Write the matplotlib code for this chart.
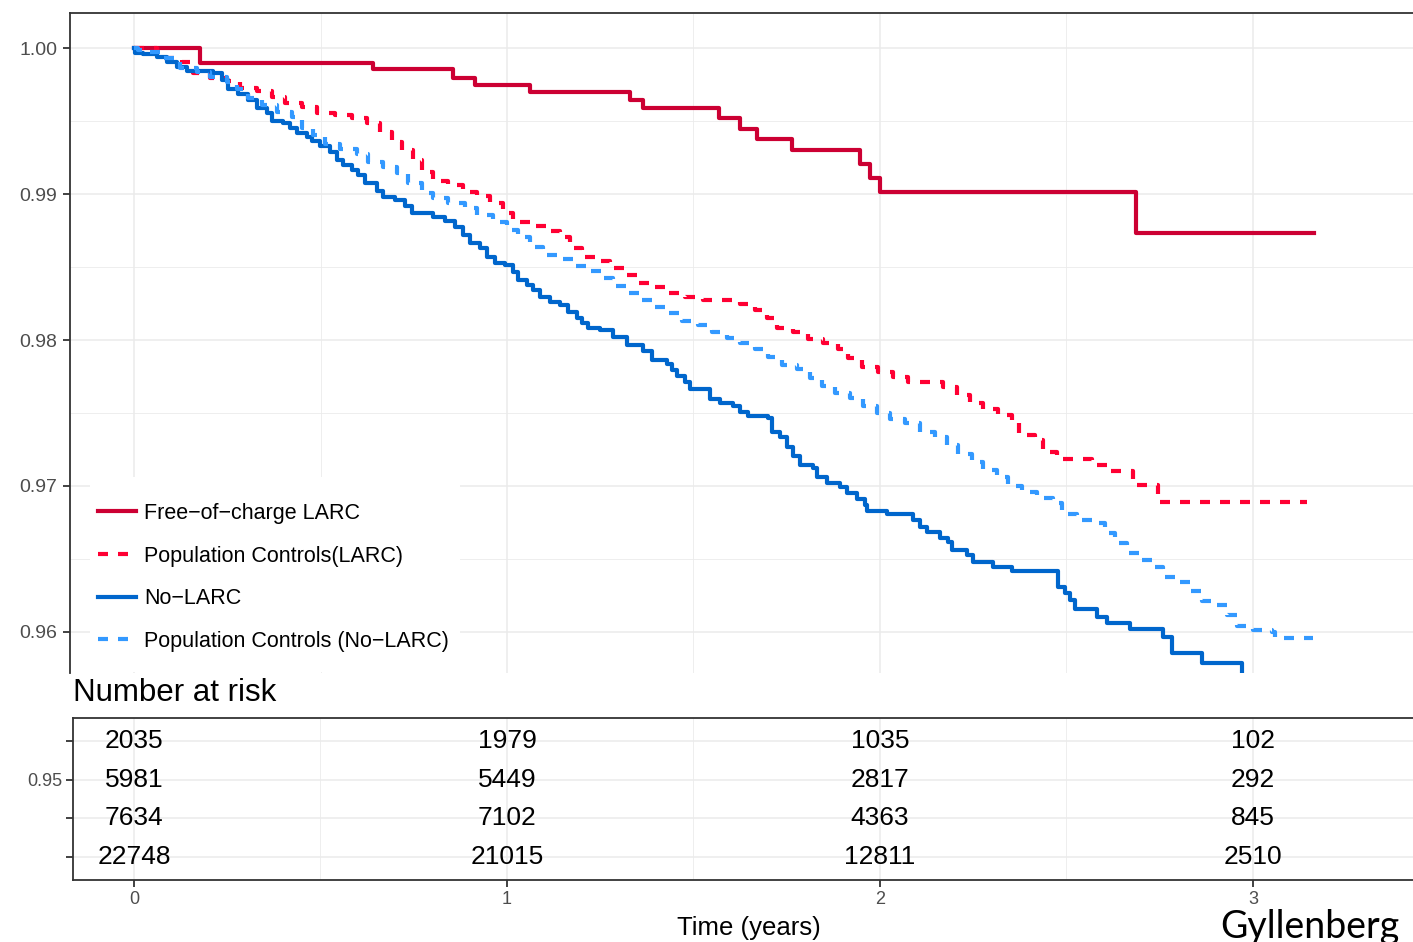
import matplotlib
matplotlib.use("Agg")
import matplotlib.pyplot as plt
from matplotlib.patches import Rectangle
from matplotlib.ticker import MultipleLocator, FixedLocator

plt.rcParams["font.family"] = ["Liberation Sans", "DejaVu Sans"]

# Kaplan-Meier style curves (time in years, survival proportion)
free_t = [0, 0.177, 0.641, 0.855, 0.914, 1.062, 1.330, 1.365, 1.568, 1.625, 1.670,
          1.764, 1.946, 1.973, 2.000, 2.686, 3.164]
free_s = [1.0, 0.99897, 0.99853, 0.99797, 0.99747, 0.99701, 0.99644, 0.99587, 0.99518,
          0.99445, 0.99375, 0.99301, 0.99205, 0.99112, 0.99016, 0.98735, 0.98735]

poplarc_t = [0, 0.062, 0.129, 0.158, 0.204, 0.249, 0.284, 0.330, 0.370, 0.405, 0.450,
             0.491, 0.539, 0.584, 0.625, 0.660, 0.692, 0.718, 0.748, 0.772, 0.802,
             0.842, 0.882, 0.920, 0.954, 0.989, 1.016, 1.067, 1.107, 1.142, 1.169,
             1.201, 1.244, 1.276, 1.316, 1.351, 1.391, 1.432, 1.477, 1.525, 1.625,
             1.665, 1.697, 1.724, 1.767, 1.807, 1.847, 1.887, 1.914, 1.952, 1.995,
             2.035, 2.075, 2.169, 2.206, 2.241, 2.276, 2.316, 2.354, 2.373, 2.416,
             2.437, 2.475, 2.568, 2.609, 2.678, 2.745, 3.145]
poplarc_s = [1.0, 0.99932, 0.99904, 0.99829, 0.99795, 0.99774, 0.99726, 0.99705, 0.99664,
             0.99623, 0.99596, 0.99555, 0.99541, 0.99521, 0.99486, 0.99425, 0.99356,
             0.99301, 0.99233, 0.99151, 0.99089, 0.99062, 0.99014, 0.98986, 0.98938,
             0.98870, 0.98808, 0.98781, 0.98747, 0.98705, 0.98630, 0.98568, 0.98541,
             0.98493, 0.98445, 0.98390, 0.98363, 0.98322, 0.98295, 0.98274, 0.98247,
             0.98205, 0.98151, 0.98082, 0.98055, 0.98007, 0.97979, 0.97938, 0.97877,
             0.97815, 0.97781, 0.97747, 0.97712, 0.97678, 0.97623, 0.97568, 0.97527,
             0.97486, 0.97438, 0.97349, 0.97315, 0.97233, 0.97185, 0.97144, 0.97103,
             0.97007, 0.96890, 0.96890]

nolarc_t = [0, 0.003, 0.024, 0.062, 0.089, 0.115, 0.142, 0.212, 0.236, 0.252, 0.279,
            0.306, 0.330, 0.357, 0.370, 0.400, 0.418, 0.437, 0.464, 0.477, 0.499,
            0.526, 0.544, 0.560, 0.585, 0.601, 0.619, 0.652, 0.668, 0.700, 0.727,
            0.745, 0.802, 0.834, 0.861, 0.882, 0.901, 0.928, 0.946, 0.968, 0.995,
            1.016, 1.030, 1.054, 1.070, 1.089, 1.115, 1.142, 1.164, 1.188, 1.201,
            1.217, 1.249, 1.284, 1.322, 1.365, 1.389, 1.429, 1.442, 1.456, 1.477,
            1.491, 1.544, 1.571, 1.606, 1.625, 1.646, 1.700, 1.711, 1.732, 1.751,
            1.767, 1.786, 1.820, 1.831, 1.858, 1.893, 1.912, 1.938, 1.960, 1.965,
            2.019, 2.089, 2.107, 2.126, 2.161, 2.182, 2.193, 2.233, 2.249, 2.303,
            2.354, 2.477, 2.496, 2.509, 2.523, 2.582, 2.609, 2.670, 2.759, 2.783,
            2.863, 2.971, 2.976]
nolarc_s = [1.0, 0.99966, 0.99959, 0.99938, 0.99904, 0.99870, 0.99842, 0.99829, 0.99781,
            0.99719, 0.99685, 0.99644, 0.99589, 0.99555, 0.99500, 0.99486, 0.99452,
            0.99418, 0.99390, 0.99363, 0.99329, 0.99288, 0.99233, 0.99199, 0.99164,
            0.99130, 0.99075, 0.99021, 0.98979, 0.98959, 0.98918, 0.98870, 0.98842,
            0.98815, 0.98774, 0.98719, 0.98664, 0.98630, 0.98568, 0.98527, 0.98514,
            0.98466, 0.98411, 0.98377, 0.98342, 0.98295, 0.98260, 0.98240, 0.98192,
            0.98151, 0.98116, 0.98082, 0.98068, 0.98021, 0.97966, 0.97925, 0.97863,
            0.97836, 0.97795, 0.97753, 0.97712, 0.97664, 0.97596, 0.97568, 0.97548,
            0.97507, 0.97479, 0.97466, 0.97370, 0.97336, 0.97267, 0.97205, 0.97144,
            0.97123, 0.97062, 0.97021, 0.96993, 0.96952, 0.96911, 0.96870, 0.96829,
            0.96808, 0.96767, 0.96719, 0.96685, 0.96644, 0.96616, 0.96562, 0.96527,
            0.96479, 0.96445, 0.96418, 0.96308, 0.96267, 0.96219, 0.96158, 0.96103,
            0.96062, 0.96021, 0.95966, 0.95856, 0.95788, 0.95600, 0.95600]

popno_t = [0, 0.011, 0.035, 0.078, 0.123, 0.169, 0.204, 0.249, 0.276, 0.306, 0.343,
           0.383, 0.424, 0.450, 0.480, 0.512, 0.552, 0.598, 0.627, 0.668, 0.705,
           0.735, 0.772, 0.802, 0.842, 0.887, 0.920, 0.962, 1.000, 1.029, 1.062,
           1.097, 1.137, 1.177, 1.217, 1.255, 1.284, 1.322, 1.357, 1.391, 1.432,
           1.469, 1.512, 1.550, 1.590, 1.625, 1.665, 1.700, 1.737, 1.777, 1.812,
           1.845, 1.879, 1.920, 1.954, 1.992, 2.027, 2.067, 2.107, 2.147, 2.180,
           2.209, 2.247, 2.276, 2.314, 2.343, 2.381, 2.421, 2.464, 2.488, 2.528,
           2.571, 2.603, 2.630, 2.662, 2.697, 2.732, 2.759, 2.799, 2.831, 2.863,
           2.898, 2.930, 2.957, 3.000, 3.051, 3.059, 3.161]
popno_s = [1.0, 0.99986, 0.99973, 0.99932, 0.99863, 0.99836, 0.99801, 0.99767, 0.99719,
           0.99658, 0.99610, 0.99562, 0.99527, 0.99452, 0.99404, 0.99342, 0.99308,
           0.99274, 0.99219, 0.99185, 0.99144, 0.99075, 0.99007, 0.98973, 0.98938,
           0.98904, 0.98856, 0.98808, 0.98753, 0.98705, 0.98637, 0.98582, 0.98555,
           0.98507, 0.98473, 0.98425, 0.98370, 0.98322, 0.98274, 0.98226, 0.98185,
           0.98130, 0.98103, 0.98055, 0.98014, 0.97979, 0.97938, 0.97884, 0.97829,
           0.97801, 0.97740, 0.97685, 0.97637, 0.97603, 0.97548, 0.97500, 0.97459,
           0.97432, 0.97370, 0.97336, 0.97281, 0.97219, 0.97164, 0.97110, 0.97062,
           0.97000, 0.96959, 0.96918, 0.96884, 0.96808, 0.96767, 0.96747, 0.96678,
           0.96610, 0.96541, 0.96493, 0.96445, 0.96377, 0.96342, 0.96281, 0.96212,
           0.96185, 0.96116, 0.96041, 0.96014, 0.96000, 0.95959, 0.95959]

labels = ["Free\u2212of\u2212charge LARC", "Population Controls(LARC)",
          "No\u2212LARC", "Population Controls (No\u2212LARC)"]
colors = ["#CC0033", "#FF0033", "#0066CC", "#3399FF"]

risk_times = [0, 1, 2, 3]
risk_free = [2035, 1979, 1035, 102]
risk_poplarc = [5981, 5449, 2817, 292]
risk_nolarc = [7634, 7102, 4363, 845]
risk_popno = [22748, 21015, 12811, 2510]

W, H = 1413, 942
fig = plt.figure(figsize=(W / 100, H / 100), dpi=100)


def box(x0, y0, x1, y1):
    # pixel box (from top-left) -> figure fraction rect
    return [x0 / W, 1 - y1 / H, (x1 - x0) / W, (y1 - y0) / H]


grid_major = dict(color="#EBEBEB", linewidth=1.1)
grid_minor = dict(color="#EBEBEB", linewidth=0.6)

# main survival panel
ax = fig.add_axes(box(70, 13, 1413, 673))
ax.set_xlim(-0.1716, 3.429)
ax.set_ylim(0.95719, 1.0024)
ax.xaxis.set_major_locator(MultipleLocator(1))
ax.xaxis.set_minor_locator(MultipleLocator(0.5))
ax.yaxis.set_major_locator(FixedLocator([0.96, 0.97, 0.98, 0.99, 1.00]))
ax.yaxis.set_minor_locator(FixedLocator([0.965, 0.975, 0.985, 0.995]))
ax.yaxis.set_major_formatter(matplotlib.ticker.FormatStrFormatter("%.2f"))
ax.grid(True, which="major", **grid_major)
ax.grid(True, which="minor", **grid_minor)
ax.set_axisbelow(True)
ax.tick_params(axis="x", which="both", bottom=False, labelbottom=False)
ax.tick_params(axis="y", which="minor", left=False)
ax.tick_params(axis="y", which="major", length=5, width=1.3, color="#333333",
               labelsize=14, labelcolor="#4D4D4D", pad=4)
for side in ["right", "bottom"]:
    ax.spines[side].set_visible(False)
for side in ["left", "top"]:
    ax.spines[side].set_color("#333333")
    ax.spines[side].set_linewidth(1.3)

series = [(free_t, free_s), (poplarc_t, poplarc_s), (nolarc_t, nolarc_s), (popno_t, popno_s)]
styles = ["-", (0, (2.4, 2.4)), "-", (0, (2.4, 2.4))]
handles = []
for (t, s), lab, col, ls in zip(series, labels, colors, styles):
    ln, = ax.step(t, s, where="post", color=col, linestyle=ls, linewidth=3.0, label=lab)
    handles.append(ln)

# white legend background, covering the grid
ax.add_patch(Rectangle((90 / W, 1 - 672 / H), 370 / W, 195 / H, transform=fig.transFigure,
                       facecolor="white", edgecolor="none", zorder=1))
leg = ax.legend(handles=handles, loc="upper left", bbox_to_anchor=(98 / W, 1 - 503 / H),
                bbox_transform=fig.transFigure, frameon=False, fontsize=15.5,
                handlelength=1.75, handletextpad=0.38, labelspacing=1.0,
                borderpad=0, borderaxespad=0)

# number-at-risk table
fig.text(73 / W, 1 - 693 / H, "Number at risk", fontsize=22.5, va="center", ha="left")

tab = fig.add_axes(box(73, 718, 1413, 880))
tab.set_xlim(-0.1635, 3.429)
tab.set_ylim(0.406, 4.594)
tab.xaxis.set_major_locator(FixedLocator(risk_times))
tab.xaxis.set_minor_locator(MultipleLocator(0.5))
tab.yaxis.set_major_locator(FixedLocator([4, 3, 2, 1]))
tab.set_yticklabels(["", "0.95", "", ""])
tab.grid(True, which="major", **grid_major)
tab.grid(True, which="minor", axis="x", **grid_minor)
tab.set_axisbelow(True)
tab.tick_params(axis="both", which="minor", bottom=False, left=False)
tab.tick_params(axis="both", which="major", length=5, width=1.3, color="#333333",
                labelsize=13, labelcolor="#4D4D4D", pad=3)
tab.spines["right"].set_visible(False)
for side in ["left", "top", "bottom"]:
    tab.spines[side].set_color("#333333")
    tab.spines[side].set_linewidth(1.3)

rows = [risk_free, risk_poplarc, risk_nolarc, risk_popno]
for row_y, vals in zip([4, 3, 2, 1], rows):
    for xt, v in zip(risk_times, vals):
        tab.text(xt, row_y, str(v), ha="center", va="center", fontsize=19, color="black")

fig.text(749 / W, 1 - 928 / H, "Time (years)", fontsize=18.5, ha="center", va="center")
fig.text(1220 / W, 1 - 938 / H, "Gyllenberg", fontsize=27, family="Lato",
         ha="left", va="baseline", color="black")

fig.savefig("out.png", dpi=100)
